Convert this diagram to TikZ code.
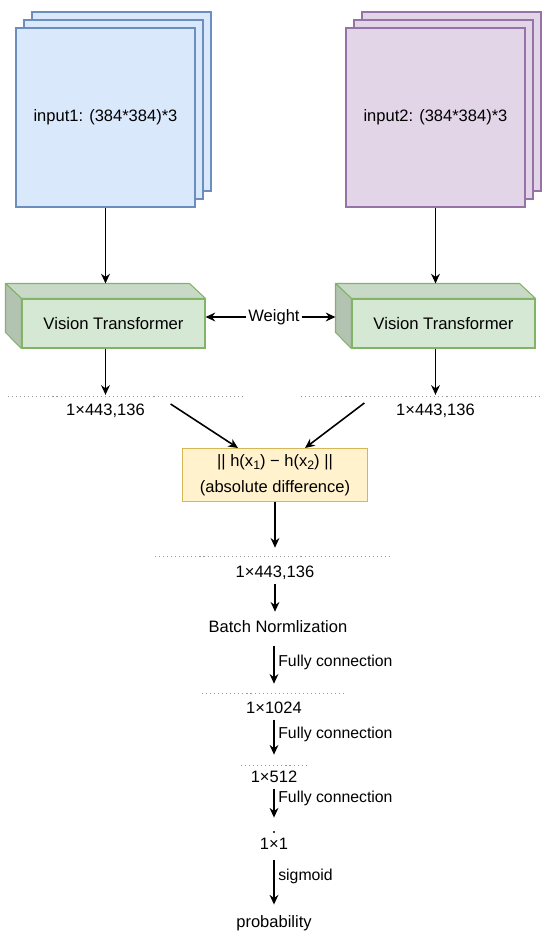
\documentclass[tikz,border=0pt]{standalone}
\usepackage{fontspec}
\setmainfont{Liberation Sans}
\usetikzlibrary{arrows.meta,positioning,calc}
\definecolor{bluefill}{HTML}{DAE8FC}
\definecolor{blueline}{HTML}{6C8EBF}
\definecolor{purplefill}{HTML}{E1D5E7}
\definecolor{purpleline}{HTML}{9673A6}
\definecolor{greenfill}{HTML}{D5E8D4}
\definecolor{greenline}{HTML}{82B366}
\definecolor{yellowfill}{HTML}{FFF2CC}
\definecolor{yellowline}{HTML}{D6B656}
\newcommand{\sub}[1]{\raisebox{-0.35ex}{\fontsize{7}{8}\selectfont #1}}
\tikzset{
  layer/.style={rectangle,minimum width=3.58cm,minimum height=3.58cm,line width=0.6pt,
    font=\fontsize{9.4}{11}\selectfont},
  vt/.style={draw=greenline,fill=greenfill,minimum width=3.66cm,minimum height=0.98cm,
    line width=0.6pt,font=\fontsize{9.5}{11}\selectfont},
  vttop/.style={draw=greenline,fill=greenfill!94!black,line width=0.6pt,line join=round},
  vtside/.style={draw=greenline,fill=greenfill!84!black,line width=0.6pt,line join=round},
  diff/.style={draw=yellowline,fill=yellowfill,minimum width=3.7cm,minimum height=0.96cm,
    line width=0.6pt,align=center,font=\fontsize{9.4}{14.7}\selectfont},
  txt/.style={font=\fontsize{9.4}{11}\selectfont,inner sep=2pt,text height=6.5pt,text depth=1.5pt},
  fclabel/.style={right,font=\fontsize{9}{11}\selectfont,inner sep=2pt},
  arrow/.style={-{Stealth[length=5.5pt,width=5pt]},draw=black,line width=0.9pt},
  sep/.style={draw=black!40,line width=0.5pt,dash pattern=on 0.6pt off 1.7pt}
}

\begin{document}
\begin{tikzpicture}[x=0.02cm,y=-0.02cm]
  \useasboundingbox (0,0) rectangle (550,943);
  % input image stacks
  \node[layer,draw=blueline,fill=bluefill] (in1b) at (121.5,101.5) {};
  \node[layer,draw=blueline,fill=bluefill] (in1m) at (113.5,109.5) {};
  \node[layer,draw=blueline,fill=bluefill] (in1) at (105.5,117.5) {input1: (384*384)*3};
  \node[layer,draw=purpleline,fill=purplefill] (in2b) at (451.5,101.5) {};
  \node[layer,draw=purpleline,fill=purplefill] (in2m) at (443.5,109.5) {};
  \node[layer,draw=purpleline,fill=purplefill] (in2) at (435.5,117.5) {input2: (384*384)*3};

  % vision transformers (cuboids)
  \node[vt] (vt1) at (113.5,323.5) {Vision Transformer};
  \node[vt] (vt2) at (443.5,323.5) {Vision Transformer};
  \foreach \n in {vt1,vt2}{
    \filldraw[vttop] (\n.north west) -- ++(-16,-15) -- ($(\n.north east)+(-16,-15)$)
      -- (\n.north east) -- cycle;
    \filldraw[vtside] (\n.north west) -- ++(-16,-15) -- ++(0,49) -- (\n.south west) -- cycle;
  }
  \coordinate (vt1top) at ($(vt1.north)+(-8,-15)$);
  \coordinate (vt2top) at ($(vt2.north)+(-8,-15)$);
  \coordinate (vt2side) at ($(vt2.west)+(-16,0)$);
  \draw[arrow] (in1.south) -- (vt1top);
  \draw[arrow] (in2.south) -- (vt2top);

  \node[txt,inner sep=1pt] (w) at (274,317) {Weight};
  \draw[arrow] (w.west) -- (w.west -| vt1.east);
  \draw[arrow] (w.east) -- (w.east -| vt2side);

  % feature vectors
  \draw[sep] (8,396) -- (246,396);
  \draw[sep] (301,396) -- (540,396);
  \node[txt] (out1) at (105.5,411) {1×443,136};
  \node[txt] (out2) at (435.5,411) {1×443,136};
  \draw[arrow,shorten >=3pt] (out1 |- vt1.south) -- (out1);
  \draw[arrow,shorten >=3pt] (out2 |- vt2.south) -- (out2);

  \node[diff] (diff) at (275,475) {|| h(x\sub{1}) − h(x\sub{2}) ||\\(absolute difference)};
  \draw[arrow] ($(out1.east)+(22,-7)$) -- ($(diff.north)+(-37,0)$);
  \draw[arrow] ($(out2.west)+(-28,-8)$) -- ($(diff.north)+(30,0)$);

  % classifier head
  \draw[sep] (155,556) -- (393,556);
  \node[txt] (mid) at (275,573) {1×443,136};
  \draw[arrow,shorten >=8.2pt] (diff) -- (mid);
  \node[txt] (bn) at (278,628) {Batch Normlization};
  \draw[arrow,shorten >=3.1pt] (mid) -- (mid |- bn.north);

  \draw[sep] (202,693) -- (344,693);
  \node[txt] (fc1) at (274,709) {1×1024};
  \draw[arrow,shorten <=4.3pt,shorten >=8.2pt] (bn.south -| fc1) -- node[fclabel,pos=0.39] {Fully connection} (fc1);

  \draw[sep] (241,765) -- (307,765);
  \node[txt] (fc2) at (274,778) {1×512};
  \draw[arrow,shorten >=7.1pt] (fc1) -- node[fclabel,pos=0.3] {Fully connection} (fc2);

  \fill (274,832) circle (1.2);
  \node[txt] (fc3) at (274,845) {1×1};
  \draw[arrow,shorten >=9.4pt] (fc2) -- node[fclabel,pos=0.2] {Fully connection} (fc3);

  \node[txt] (prob) at (274,923) {probability};
  \draw[arrow,shorten <=2.6pt,shorten >=4.3pt] (fc3) -- node[fclabel,pos=0.36] {sigmoid} (prob);
\end{tikzpicture}
\end{document}
